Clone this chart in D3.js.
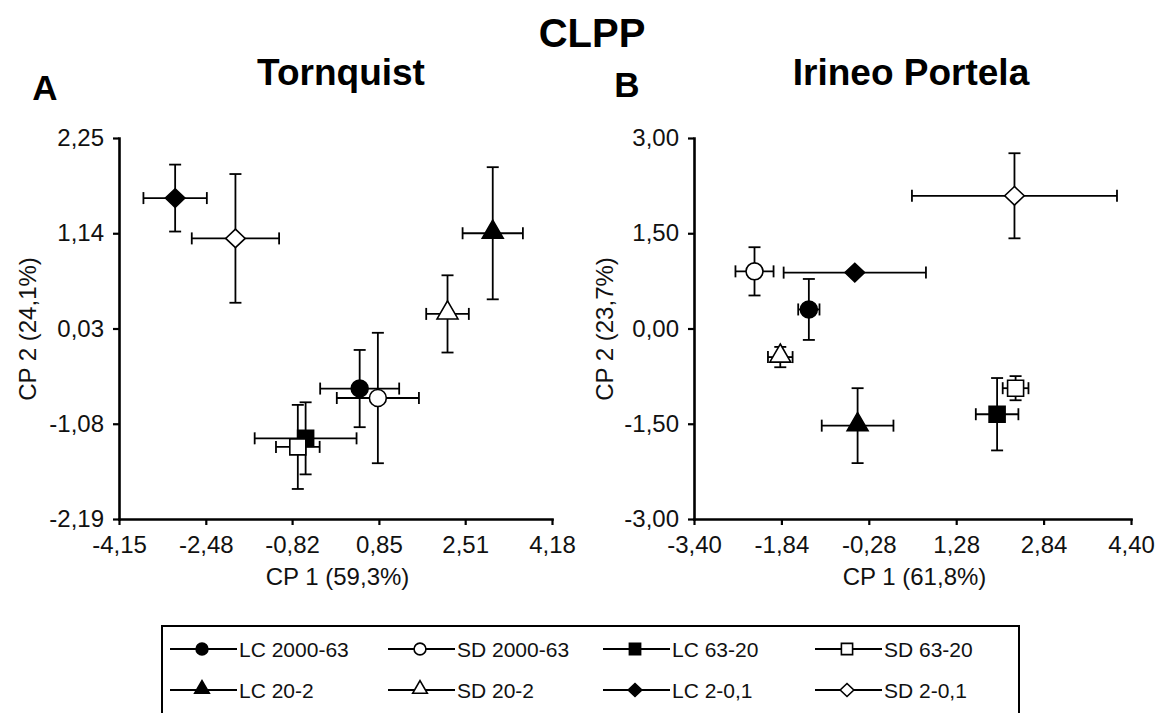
<!DOCTYPE html>
<html>
<head>
<meta charset="utf-8">
<script src="https://cdn.jsdelivr.net/npm/d3@7"></script>
<style>
  body { margin: 0; background: #fff; }
  svg { font-family: "Liberation Sans", Arial, sans-serif; }
</style>
</head>
<body>
<div id="chart"></div>
<script>
// groups, in legend order
var groups = ["LC 2000-63", "SD 2000-63", "LC 63-20", "SD 63-20", "LC 20-2", "SD 20-2", "LC 2-0,1", "SD 2-0,1"];
var shapes = ["circle", "circle", "square", "square", "triangle", "triangle", "diamond", "diamond"];
var filled = [true, false, true, false, true, false, true, false];

// A - Tornquist
var tornX    = [0.48, 0.83, -0.56, -0.71, 3.04, 2.17, -3.07, -1.91];
var tornXErr = [0.76, 0.79, 0.98, 0.42, 0.58, 0.41, 0.61, 0.84];
var tornY    = [-0.67, -0.78, -1.25, -1.35, 1.14, 0.20, 1.55, 1.08];
var tornYErr = [0.45, 0.76, 0.42, 0.49, 0.77, 0.45, 0.39, 0.75];
var tornXTicks = [-4.15, -2.48, -0.82, 0.85, 2.51, 4.18];
var tornYTicks = [-2.19, -1.08, 0.03, 1.14, 2.25];

// B - Irineo Portela
var ipX    = [-1.35, -2.32, 2.01, 2.34, -0.48, -1.86, -0.53, 2.32];
var ipXErr = [0.19, 0.34, 0.38, 0.23, 0.64, 0.22, 1.27, 1.83];
var ipY    = [0.30, 0.90, -1.35, -0.94, -1.53, -0.45, 0.88, 2.09];
var ipYErr = [0.48, 0.38, 0.57, 0.19, 0.59, 0.16, 0.04, 0.67];
var ipXTicks = [-3.40, -1.84, -0.28, 1.28, 2.84, 4.40];
var ipYTicks = [-3.00, -1.50, 0.00, 1.50, 3.00];

var width = 1158, height = 713;
var svg = d3.select('#chart').append('svg')
    .attr('width', width)
    .attr('height', height);

var fmt = function(v) { return v.toFixed(2).replace('.', ',').replace('\u2212', '-'); };

// rotated square, a bit wider than tall like the original
var diamondSymbol = {
    draw: function(ctx, size) {
        var h = Math.sqrt(size) / 2;
        ctx.moveTo(0, -h * 0.95);
        ctx.lineTo(h, 0);
        ctx.lineTo(0, h * 0.95);
        ctx.lineTo(-h, 0);
        ctx.closePath();
    }
};
var symbolType = {
    circle: d3.symbolCircle,
    square: d3.symbolSquare,
    triangle: d3.symbolTriangle,
    diamond: diamondSymbol
};
var symbolSize = { circle: 225, square: 256, triangle: 190, diamond: 380 };

function marker(g, shape, isFilled, scale) {
    var k = scale || 1;
    g.append('path')
        .attr('d', d3.symbol().type(symbolType[shape]).size(symbolSize[shape] * k * k)())
        .attr('transform', shape === 'triangle' ? 'translate(0,-1)' : null)
        .attr('fill', isFilled ? '#000' : '#fff')
        .attr('stroke', '#000')
        .attr('stroke-width', 1.6);
}

function panel(opts) {
    var x = d3.scaleLinear().domain(d3.extent(opts.xTicks)).range([opts.left, opts.right]);
    var y = d3.scaleLinear().domain(d3.extent(opts.yTicks)).range([opts.bottom, opts.top]);

    var xAxis = svg.append('g')
        .attr('transform', 'translate(0,' + opts.bottom + ')')
        .call(d3.axisBottom(x).tickValues(opts.xTicks).tickFormat(fmt).tickSize(6).tickSizeOuter(0).tickPadding(11));
    var yAxis = svg.append('g')
        .attr('transform', 'translate(' + opts.left + ',0)')
        .call(d3.axisLeft(y).tickValues(opts.yTicks).tickFormat(fmt).tickSize(6).tickSizeOuter(0).tickPadding(9));
    [xAxis, yAxis].forEach(function(a) {
        a.select('.domain').attr('stroke-width', 2.6).attr('stroke-linecap', 'square');
        a.selectAll('.tick line').attr('stroke-width', 2.2);
        a.selectAll('.tick text').attr('font-size', 24).attr('fill', '#111');
    });

    // error bars
    var cap = 6;
    var eb = svg.append('g').attr('stroke', '#000').attr('stroke-width', 1.8).attr('fill', 'none');
    groups.forEach(function(name, i) {
        var cx = x(opts.xs[i]), cy = y(opts.ys[i]);
        var x0 = x(opts.xs[i] - opts.xErr[i]), x1 = x(opts.xs[i] + opts.xErr[i]);
        var y0 = y(opts.ys[i] - opts.yErr[i]), y1 = y(opts.ys[i] + opts.yErr[i]);
        eb.append('line').attr('x1', x0).attr('x2', x1).attr('y1', cy).attr('y2', cy);
        eb.append('line').attr('x1', x0).attr('x2', x0).attr('y1', cy - cap).attr('y2', cy + cap);
        eb.append('line').attr('x1', x1).attr('x2', x1).attr('y1', cy - cap).attr('y2', cy + cap);
        eb.append('line').attr('x1', cx).attr('x2', cx).attr('y1', y0).attr('y2', y1);
        eb.append('line').attr('x1', cx - cap).attr('x2', cx + cap).attr('y1', y0).attr('y2', y0);
        eb.append('line').attr('x1', cx - cap).attr('x2', cx + cap).attr('y1', y1).attr('y2', y1);
    });
    groups.forEach(function(name, i) {
        var g = svg.append('g').attr('transform', 'translate(' + x(opts.xs[i]) + ',' + y(opts.ys[i]) + ')');
        marker(g, shapes[i], filled[i]);
    });

    var midX = (opts.left + opts.right) / 2;
    svg.append('text')
        .attr('x', midX + 2).attr('y', 585)
        .attr('text-anchor', 'middle').attr('font-size', 24).attr('fill', '#111')
        .text(opts.xLabel);
    svg.append('text')
        .attr('transform', 'translate(' + opts.yLabelX + ',' + 329 + ') rotate(-90)')
        .attr('text-anchor', 'middle').attr('font-size', 24).attr('fill', '#111')
        .text(opts.yLabel);
    svg.append('text')
        .attr('x', opts.titleX).attr('y', 85)
        .attr('text-anchor', 'middle').attr('font-size', 37).attr('font-weight', 'bold')
        .text(opts.title);
    svg.append('text')
        .attr('x', opts.letterX).attr('y', opts.letterY)
        .attr('text-anchor', 'middle').attr('font-size', 35).attr('font-weight', 'bold')
        .text(opts.letter);
}

svg.append('text')
    .attr('x', 592).attr('y', 47)
    .attr('text-anchor', 'middle').attr('font-size', 40).attr('font-weight', 'bold')
    .text('CLPP');

panel({
    xs: tornX, ys: tornY, xErr: tornXErr, yErr: tornYErr,
    xTicks: tornXTicks, yTicks: tornYTicks,
    left: 119, right: 552, top: 138, bottom: 519,
    xLabel: 'CP 1 (59,3%)', yLabel: 'CP 2 (24,1%)', yLabelX: 36,
    title: 'Tornquist', titleX: 341, letter: 'A', letterX: 45, letterY: 100
});
panel({
    xs: ipX, ys: ipY, xErr: ipXErr, yErr: ipYErr,
    xTicks: ipXTicks, yTicks: ipYTicks,
    left: 694, right: 1131, top: 138, bottom: 519,
    xLabel: 'CP 1 (61,8%)', yLabel: 'CP 2 (23,7%)', yLabelX: 613,
    title: 'Irineo Portela', titleX: 911, letter: 'B', letterX: 627, letterY: 97
});

// legend
var legend = svg.append('g');
legend.append('rect')
    .attr('x', 162).attr('y', 626).attr('width', 857).attr('height', 100)
    .attr('fill', 'none').attr('stroke', '#000').attr('stroke-width', 2);
var colX = [202, 420, 635, 847];
var rowY = [649, 690];
groups.forEach(function(name, i) {
    var mx = colX[i % 4], my = rowY[Math.floor(i / 4)];
    var g = legend.append('g').attr('transform', 'translate(' + mx + ',' + my + ')');
    g.append('line').attr('x1', -32).attr('x2', 35).attr('stroke', '#000').attr('stroke-width', 2);
    marker(g, shapes[i], filled[i], 0.7);
    g.append('text').attr('x', 37).attr('y', 0).attr('dy', '0.36em')
        .attr('font-size', 21).attr('fill', '#111')
        .text(name);
});
</script>
</body>
</html>
